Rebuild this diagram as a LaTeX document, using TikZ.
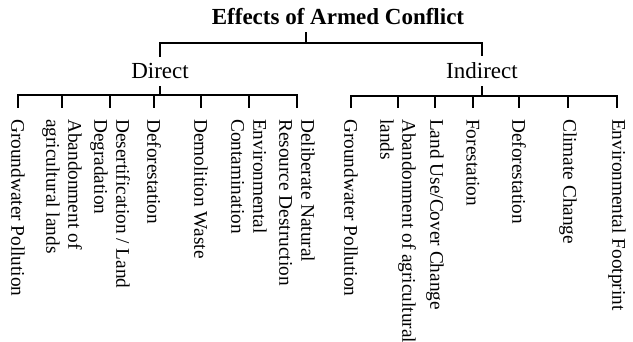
\documentclass[tikz,border=0pt]{standalone}
\usepackage{fontspec}
\setmainfont{Liberation Serif}
\usepackage{tikz}
\usetikzlibrary{positioning, calc}

\tikzset{
  effect/.style={rotate=-90, anchor=west, inner xsep=11pt, inner ysep=0pt, align=left,
    font=\fontsize{19.3}{22}\selectfont},
  branch/.style={anchor=base, inner xsep=0pt, inner ysep=7pt, font=\fontsize{23}{26}\selectfont},
  tree/.style={line width=1.5pt}
}

\begin{document}
\begin{tikzpicture}[x=1pt, y=-1pt]
    \useasboundingbox (0,0) rectangle (633,342);

    \node[anchor=base, inner ysep=7pt, font=\fontsize{23}{26}\selectfont\bfseries] (title) at (338,25) {Effects of Armed Conflict};
    \node[branch] (direct) at (160,79) {Direct};
    \node[branch] (indirect) at (482,79) {Indirect};

    \coordinate (topjoin) at (306,43);
    \coordinate (dbar) at (160,95);
    \coordinate (ibar) at (482,96);

    % direct effects
    \node[effect] (dl1) at (18,108) {Groundwater Pollution};
    \node[effect] (dl2) at (62,108) {Abandonment of\\agricultural lands};
    \node[effect] (dl3) at (110,108) {Desertification / Land\\Degradation};
    \node[effect] (dl4) at (154,108) {Deforestation};
    \node[effect] (dl5) at (201,108) {Demolition Waste};
    \node[effect] (dl6) at (249,108) {Environmental\\Contamination};
    \node[effect] (dl7) at (297,108) {Deliberate Natural\\Resource Destruction};

    % indirect effects
    \node[effect] (il1) at (351,108) {Groundwater Pollution};
    \node[effect] (il2) at (398,108) {Abandonment of agricultural\\lands};
    \node[effect] (il3) at (435,108) {Land Use/Cover Change};
    \node[effect] (il4) at (473,108) {Forestation};
    \node[effect] (il5) at (519,108) {Deforestation};
    \node[effect] (il6) at (568,108) {Climate Change};
    \node[effect] (il7) at (617,108) {Environmental Footprint};

    \draw[tree] (title.south -| topjoin) -- (topjoin);
    \draw[tree] (direct.north) |- (topjoin) -| (indirect.north);

    \draw[tree] (direct.south) -- (dbar) -| (dl1.west);
    \draw[tree] (direct.south) -- (dbar) -| (dl2.west);
    \draw[tree] (direct.south) -- (dbar) -| (dl3.west);
    \draw[tree] (direct.south) -- (dbar) -| (dl4.west);
    \draw[tree] (direct.south) -- (dbar) -| (dl5.west);
    \draw[tree] (direct.south) -- (dbar) -| (dl6.west);
    \draw[tree] (direct.south) -- (dbar) -| (dl7.west);

    \draw[tree] (indirect.south) -- (ibar) -| (il1.west);
    \draw[tree] (indirect.south) -- (ibar) -| (il2.west);
    \draw[tree] (indirect.south) -- (ibar) -| (il3.west);
    \draw[tree] (indirect.south) -- (ibar) -| (il4.west);
    \draw[tree] (indirect.south) -- (ibar) -| (il5.west);
    \draw[tree] (indirect.south) -- (ibar) -| (il6.west);
    \draw[tree] (indirect.south) -- (ibar) -| (il7.west);
  \end{tikzpicture}
\end{document}
